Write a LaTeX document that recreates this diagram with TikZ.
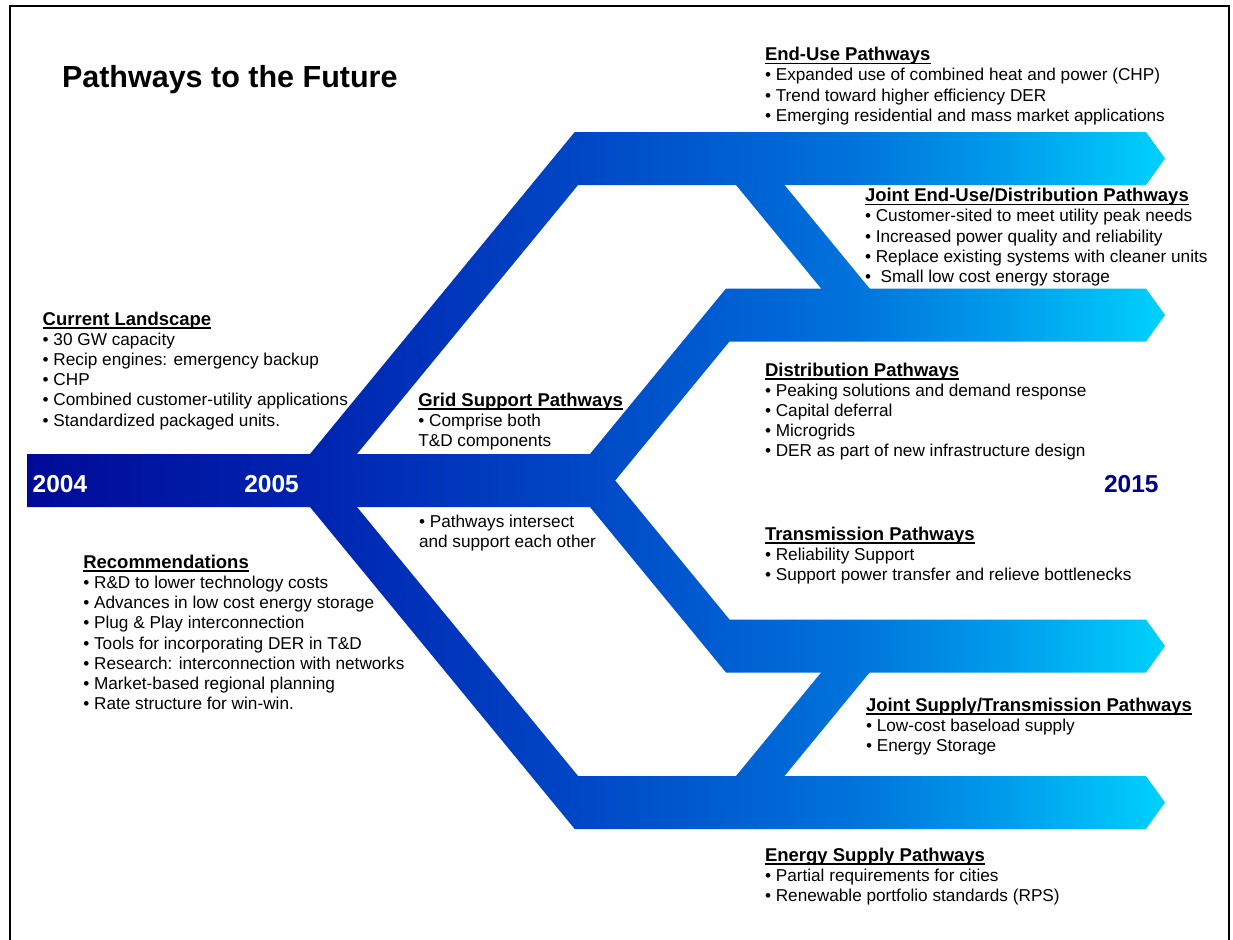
\documentclass[tikz,border=0pt]{standalone}
\usepackage{fontspec}
\setmainfont{Liberation Sans}

% left-to-right blue gradient of the pathway bands (25bp..75bp = band extent)
\pgfdeclarehorizontalshading{bandfill}{100bp}{%
  rgb(0bp)=(0,0.04,0.59);
  rgb(25bp)=(0,0.04,0.59);
  rgb(37.4bp)=(0,0.14,0.69);
  rgb(50.2bp)=(0,0.29,0.78);
  rgb(61.2bp)=(0,0.45,0.86);
  rgb(67.8bp)=(0,0.61,0.92);
  rgb(75bp)=(0,0.82,0.99);
  rgb(100bp)=(0,0.82,0.99)}

\definecolor{yearnavy}{RGB}{0,0,140}

\newsavebox\hdbox
% underlined bold heading
\newcommand\hd[1]{\sbox\hdbox{\fontsize{18.5}{20.2}\selectfont\bfseries #1}%
  \rlap{\rule[-3.6pt]{\wd\hdbox}{1.6pt}}\usebox\hdbox}
% heading followed by bullet lines
\newcommand\blk[2]{\vtop{\baselineskip=20.2pt\lineskiplimit=-20pt
  \hbox{\hd{#1}}\fontsize{17.2}{20.2}\selectfont #2}}
% plain lines
\newcommand\lines[1]{\vtop{\fontsize{17.2}{20.2}\selectfont
  \baselineskip=20.2pt\lineskiplimit=-20pt #1}}

% one band segment, painted with the shared gradient
\newcommand\bandpiece[1]{\begin{scope}\clip #1 -- cycle;
  \shade[shading=bandfill] (27,0) rectangle (1165,939);\end{scope}}

\begin{document}
\begin{tikzpicture}[x=1pt,y=-1pt,
  txt/.style={anchor=base west, inner sep=0pt, outer sep=0pt},
  year/.style={txt, font=\fontsize{24.5}{28}\selectfont\bfseries}]
\clip (0,0) rectangle (1233,939);
\fill[white] (0,0) rectangle (1233,939);

% frame
\draw[line width=2pt] (10,6) rectangle (1229,980);

% main bar into the first fork
\bandpiece{(27,454) -- (590,454) -- (615.2,480.5) -- (590,507) -- (27,507)}
% big branch up to End-Use arrow
\bandpiece{(288.2,480.5) -- (574.7,132) -- (1146,132) -- (1165,158.5) -- (1146,185) -- (578.1,185) -- (335.2,480.5)}
% big branch down to Energy Supply arrow
\bandpiece{(288.2,480.5) -- (574.7,829) -- (1146,829) -- (1165,802.5) -- (1146,776) -- (578.1,776) -- (335.2,480.5)}
% second fork: up to distribution arrow
\bandpiece{(546.4,507) -- (726.0,288.5) -- (1146,288.5) -- (1165,315) -- (1146,341.5) -- (729.5,341.5) -- (615.2,480.5)}
% second fork: down to transmission arrow
\bandpiece{(546.4,454) -- (726.0,672.5) -- (1146,672.5) -- (1165,646) -- (1146,619.5) -- (729.5,619.5) -- (615.2,480.5)}
% joint end-use / distribution link
\bandpiece{(714.2,158.5) -- (762.7,158.5) -- (891.4,315) -- (842.9,315)}
% joint supply / transmission link
\bandpiece{(714.2,802.5) -- (762.7,802.5) -- (891.4,646) -- (842.9,646)}

% title
\node[txt, font=\fontsize{30.5}{34}\selectfont\bfseries] (title) at (62,88) {Pathways to the Future};

% years
\node[year, text=white] (y2004) at (32.7,492.7) {2004};
\node[year, text=white] (y2005) at (244.3,492.7) {2005};
\node[year, text=yearnavy] (y2015) at (1104,492.7) {2015};

% text blocks
\node[txt] (current) at (42.7,325) {\blk{Current Landscape}{%
  \hbox{• 30 GW capacity}
  \hbox{• Recip engines: emergency backup}
  \hbox{• CHP}
  \hbox{• Combined customer-utility applications}
  \hbox{• Standardized packaged units.}}};

\node[txt] (recomm) at (83.3,568.3) {\blk{Recommendations}{%
  \hbox{• R\&D to lower technology costs}
  \hbox{• Advances in low cost energy storage}
  \hbox{• Plug \& Play interconnection}
  \hbox{• Tools for incorporating DER in T\&D}
  \hbox{• Research: interconnection with networks}
  \hbox{• Market-based regional planning}
  \hbox{• Rate structure for win-win.}}};

\node[txt] (grid) at (418.3,406) {\blk{Grid Support Pathways}{%
  \hbox{• Comprise both}
  \hbox{T\&D components}}};

\node[txt] (intersect) at (419,527) {\lines{%
  \hbox{• Pathways intersect}
  \hbox{and support each other}}};

\node[txt] (enduse) at (765,60.7) {\blk{End-Use Pathways}{%
  \hbox{• Expanded use of combined heat and power (CHP)}
  \hbox{• Trend toward higher efficiency DER}
  \hbox{• Emerging residential and mass market applications}}};

\node[txt] (jointed) at (865,201.7) {\blk{Joint End-Use/Distribution Pathways}{%
  \hbox{• Customer-sited to meet utility peak needs}
  \hbox{• Increased power quality and reliability}
  \hbox{• Replace existing systems with cleaner units}
  \hbox{•\ \ Small low cost energy storage}}};

\node[txt] (distrib) at (765,376) {\blk{Distribution Pathways}{%
  \hbox{• Peaking solutions and demand response}
  \hbox{• Capital deferral}
  \hbox{• Microgrids}
  \hbox{• DER as part of new infrastructure design}}};

\node[txt] (transm) at (765,540) {\blk{Transmission Pathways}{%
  \hbox{• Reliability Support}
  \hbox{• Support power transfer and relieve bottlenecks}}};

\node[txt] (jointst) at (866,711) {\blk{Joint Supply/Transmission Pathways}{%
  \hbox{• Low-cost baseload supply}
  \hbox{• Energy Storage}}};

\node[txt] (supply) at (765,861) {\blk{Energy Supply Pathways}{%
  \hbox{• Partial requirements for cities}
  \hbox{• Renewable portfolio standards (RPS)}}};
\end{tikzpicture}
\end{document}
